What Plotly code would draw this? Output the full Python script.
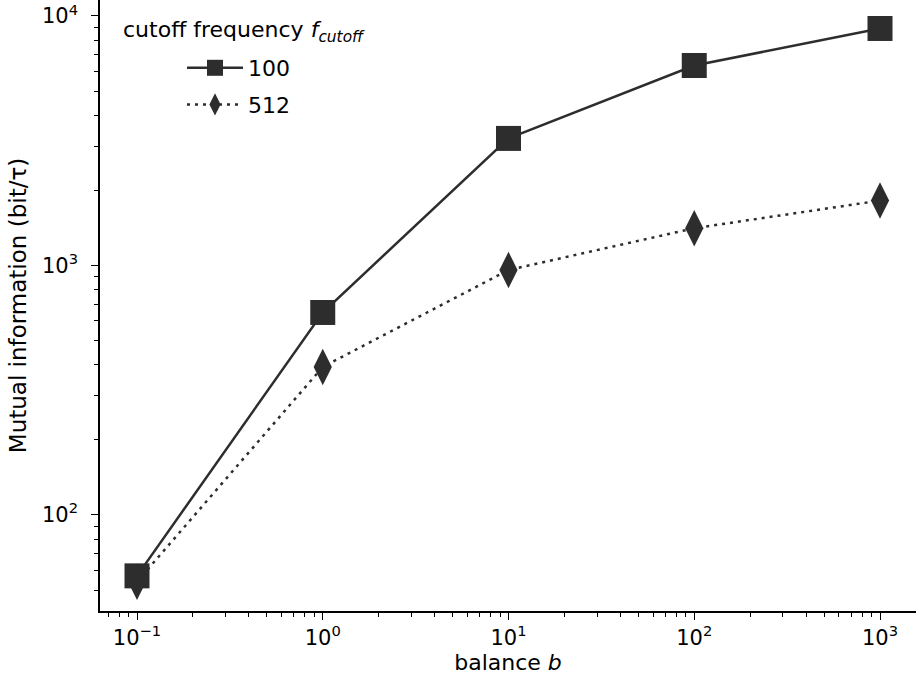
import plotly.graph_objects as go

# Data
balance = [0.1, 1, 10, 100, 1000]
mi_cutoff_100 = [57, 648, 3230, 6330, 8910]
mi_cutoff_512 = [54, 392, 959, 1410, 1820]
series_names = ["100", "512"]
legend_title = "cutoff frequency <i>f</i><sub><i>cutoff</i></sub>"

x_tickvals = [0.1, 1, 10, 100, 1000]
x_ticktext = ["10<sup>\u22121</sup>", "10<sup>0</sup>", "10<sup>1</sup>", "10<sup>2</sup>", "10<sup>3</sup>"]
y_tickvals = [100, 1000, 10000]
y_ticktext = ["10<sup>2</sup>", "10<sup>3</sup>", "10<sup>4</sup>"]

C = "#2d2d2d"
FONT = "DejaVu Sans"

x_minor = [m * 10 ** e for e in range(-2, 4) for m in range(2, 10)]
y_minor = [m * 10 ** e for e in range(1, 5) for m in range(2, 10)]

fig = go.Figure()
fig.add_trace(go.Scatter(
    x=balance, y=mi_cutoff_100, mode="lines+markers", name=series_names[0],
    legendgroup="a",
    line=dict(color=C, width=2.5),
    marker=dict(symbol="square", size=25, color=C, line=dict(width=0)),
))
fig.add_trace(go.Scatter(
    x=balance, y=mi_cutoff_512, mode="lines+markers", name=series_names[1],
    legendgroup="b",
    line=dict(color=C, width=2.5, dash="3px,5px"),
    marker=dict(symbol="diamond-tall", size=26, color=C, line=dict(width=0)),
))

axis_common = dict(
    type="log", showline=True, linecolor="black", linewidth=1.5,
    ticks="outside", ticklen=7, tickwidth=1.2, tickcolor="black",
    showgrid=False, zeroline=False, mirror=False,
    tickfont=dict(family=FONT, size=21, color="black"),
)

PW, PH = 816, 611

fig.update_layout(
    width=916, height=686,
    margin=dict(l=100, r=0, t=0, b=75),
    plot_bgcolor="white", paper_bgcolor="white",
    font=dict(family=FONT, size=21, color="black"),
    xaxis=dict(
        **axis_common,
        range=[-1.1992, 3.1938],
        tickvals=x_tickvals, ticktext=x_ticktext,
        minor=dict(ticks="outside", ticklen=4, tickwidth=1, tickcolor="black", tickvals=x_minor, showgrid=False),
        title=dict(text="balance <i>b</i>", font=dict(family=FONT, size=22), standoff=6),
    ),
    yaxis=dict(
        **axis_common,
        range=[1.615, 4.064],
        tickvals=y_tickvals, ticktext=y_ticktext,
        minor=dict(ticks="outside", ticklen=4, tickwidth=1, tickcolor="black", tickvals=y_minor, showgrid=False),
        title=dict(text="Mutual information (bit/\u03c4)", font=dict(family=FONT, size=23), standoff=9),
        ticklabelstandoff=9,
    ),
    showlegend=True,
    legend=dict(
        x=(182 - 100) / PW, y=1 - 47 / PH, xanchor="left", yanchor="top",
        bgcolor="rgba(0,0,0,0)", borderwidth=0,
        font=dict(family=FONT, size=22, color="black"),
        tracegroupgap=5,
        itemsizing="trace",
        itemwidth=56,
    ),
    annotations=[dict(
        text=legend_title, xref="paper", yref="paper",
        x=(121 - 100) / PW, y=1 - 32 / PH, xanchor="left", yanchor="middle",
        showarrow=False, font=dict(family=FONT, size=22, color="black"),
    )],
)

fig.write_html("out.html")
